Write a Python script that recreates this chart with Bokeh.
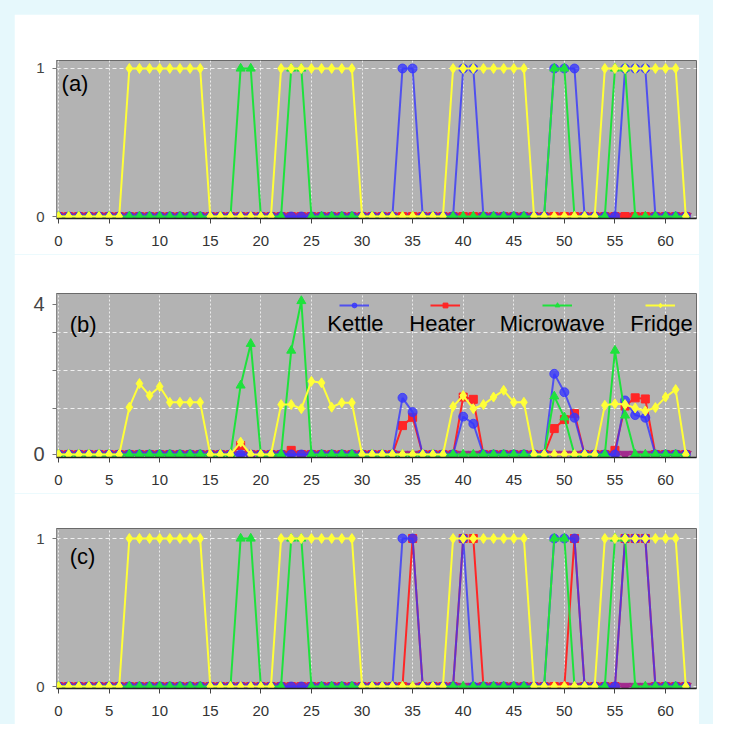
from bokeh.plotting import figure
from bokeh.layouts import column
from bokeh.models import FixedTicker, Label, Legend, LegendItem, Range1d
from bokeh.embed import file_html
from bokeh.resources import INLINE

# ---------------- data ----------------
t = list(range(63))
x_ticks = [0, 5, 10, 15, 20, 25, 30, 35, 40, 45, 50, 55, 60]
series_names = ["Kettle", "Heater", "Microwave", "Fridge"]

# (a) ground-truth on/off states
kettle_a = [0,0,0,0,0,0,0,0,0,0, 0,0,0,0,0,0,0,0,0,0, 0,0,0,0,0,0,0,0,0,0,
            0,0,0,0,1,1,0,0,0,0, 1,1,0,0,0,0,0,0,0,1, 1,1,0,0,0,0,1,1,1,0, 0,0,0]
heater_a = [0,0,0,0,0,0,0,0,0,0, 0,0,0,0,0,0,0,0,0,0, 0,0,0,0,0,0,0,0,0,0,
            0,0,0,0,0,0,0,0,0,0, 0,0,0,0,0,0,0,0,0,0, 0,0,0,0,0,0,0,0,0,0, 0,0,0]
microwave_a = [0,0,0,0,0,0,0,0,0,0, 0,0,0,0,0,0,0,0,1,1, 0,0,0,1,1,0,0,0,0,0,
               0,0,0,0,0,0,0,0,0,0, 0,0,0,0,0,0,0,0,0,1, 1,0,0,0,0,1,1,0,0,0, 0,0,0]
fridge_a = [0,0,0,0,0,0,0,1,1,1, 1,1,1,1,1,0,0,0,0,0, 0,0,1,1,1,1,1,1,1,1,
            0,0,0,0,0,0,0,0,0,1, 1,1,1,1,1,1,1,0,0,0, 0,0,0,0,1,1,1,1,1,1, 1,1,0]

# (b) power readings
kettle_b = [0,0,0,0,0,0,0,0,0,0, 0,0,0,0,0,0,0,0,0,0, 0,0,0,0,0,0,0,0,0,0,
            0,0,0,0,1.51,1.13,0,0,0,0, 1.01,0.82,0,0,0,0,0,0,0,2.15,
            1.66,0.98,0,0,0,0,1.44,1.05,0.98,0, 0,0,0]
heater_b = [0,0,0,0,0,0,0,0,0,0, 0,0,0,0,0,0,0,0,0.24,0, 0,0,0,0.11,0,0,0,0,0,0,
            0,0,0,0,0.77,0.99,0,0,0,0, 1.53,1.47,0,0,0,0,0,0,0,0.69,
            0.93,1.09,0,0,0,0.11,1.29,1.51,1.48,0, 0,0,0]
microwave_b = [0,0,0,0,0,0,0,0,0,0, 0,0,0,0,0,0,0,0,1.84,2.95, 0,0,0,2.77,4.09,0,0,0,0,0,
               0,0,0,0,0,0,0,0,0,0, 0,0,0,0,0,0,0,0,0,1.55,
               0.99,0,0,0,0,2.77,1.04,0,0,0, 0,0,0]
fridge_b = [0,0,0,0,0,0,0,1.26,1.89,1.57, 1.81,1.39,1.39,1.39,1.39,0,0,0,0.33,0,
            0,0,1.33,1.33,1.22,1.95,1.91,1.26,1.38,1.38, 0,0,0,0,0,0,0,0,0,1.28,
            1.57,1.22,1.33,1.53,1.71,1.39,1.39,0,0,0, 0,0,0,0,1.31,1.35,1.33,1.24,1.16,1.25,
            1.53,1.73,0]

# (c) estimated on/off states
kettle_c = [0,0,0,0,0,0,0,0,0,0, 0,0,0,0,0,0,0,0,0,0, 0,0,0,0,0,0,0,0,0,0,
            0,0,0,0,1,1,0,0,0,0, 1,0,0,0,0,0,0,0,0,1, 1,1,0,0,0,0,1,1,1,0, 0,0,0]
heater_c = [0,0,0,0,0,0,0,0,0,0, 0,0,0,0,0,0,0,0,0,0, 0,0,0,0,0,0,0,0,0,0,
            0,0,0,0,0,1,0,0,0,0, 1,1,0,0,0,0,0,0,0,0, 0,1,0,0,0,0,1,1,1,0, 0,0,0]
microwave_c = [0,0,0,0,0,0,0,0,0,0, 0,0,0,0,0,0,0,0,1,1, 0,0,0,1,1,0,0,0,0,0,
               0,0,0,0,0,0,0,0,0,0, 0,0,0,0,0,0,0,0,0,1, 1,0,0,0,0,1,1,0,0,0, 0,0,0]
fridge_c = [0,0,0,0,0,0,0,1,1,1, 1,1,1,1,1,0,0,0,0,0, 0,0,1,1,1,1,1,1,1,1,
            0,0,0,0,0,0,0,0,0,1, 1,1,1,1,1,1,1,0,0,0, 0,0,0,0,1,1,1,1,1,1, 1,1,0]

# unlabelled idle series (always zero)
idle = [0,0,0,0,0,0,0,0,0,0, 0,0,0,0,0,0,0,0,0,0, 0,0,0,0,0,0,0,0,0,0,
        0,0,0,0,0,0,0,0,0,0, 0,0,0,0,0,0,0,0,0,0, 0,0,0,0,0,0,0,0,0,0, 0,0,0]

# ---------------- styles ----------------
FONT = "Liberation Sans"
COL = {"Kettle": "#3434ff", "Heater": "#ff2626", "Microwave": "#1ee23c", "Fridge": "#ffff38"}
MARK = {"Kettle": "circle", "Heater": "square", "Microwave": "triangle", "Fridge": "diamond"}
MSIZE = {"Kettle": 9, "Heater": 8, "Microwave": 9, "Fridge": 10}
ALPHA = {"Kettle": 0.78, "Heater": 1.0, "Microwave": 1.0, "Fridge": 1.0}
IDLE_COL = "#a22a8e"
W = 685


def panel(tag, data, y0, y1, height, bt, bb, yticks, yminor, lab_xy, ysize, margin):
    p = figure(width=W, height=height, x_range=Range1d(-0.2, 63.06), y_range=Range1d(y0, y1),
               output_backend="svg", toolbar_location=None,
               min_border_left=42, min_border_right=3, min_border_top=bt, min_border_bottom=bb)
    p.margin = margin
    p.background_fill_color = "#b3b3b3"
    p.border_fill_color = "white"
    p.outline_line_color = "#6a6a6a"
    p.outline_line_width = 1

    p.xaxis.ticker = FixedTicker(ticks=x_ticks)
    p.xaxis.major_label_text_font = FONT
    p.xaxis.major_label_text_font_size = "15px"
    p.xaxis.major_label_text_color = "#333333"
    p.xaxis.axis_line_color = "#222222"
    p.xaxis.axis_line_width = 1.5
    p.xaxis.major_tick_out = 5
    p.xaxis.major_tick_in = 0
    p.xaxis.major_tick_line_color = "#444444"
    p.xaxis.major_label_standoff = 12

    p.yaxis.ticker = FixedTicker(ticks=yticks, minor_ticks=yminor)
    p.yaxis.major_label_text_font = FONT
    p.yaxis.major_label_text_font_size = ysize
    p.yaxis.major_label_text_color = "#444444"
    p.yaxis.axis_line_color = "#888888"
    p.yaxis.major_tick_out = 4
    p.yaxis.major_tick_in = 0
    p.yaxis.minor_tick_out = 4
    p.yaxis.minor_tick_in = 0
    p.yaxis.major_tick_line_color = "#777777"
    p.yaxis.minor_tick_line_color = "#777777"
    p.yaxis.major_label_standoff = 8

    p.xgrid.grid_line_color = "white"
    p.xgrid.grid_line_alpha = 0.75
    p.xgrid.grid_line_dash = "2 2"
    if yminor:
        p.ygrid.grid_line_color = None
        p.ygrid.minor_grid_line_color = "white"
        p.ygrid.minor_grid_line_alpha = 0.8
        p.ygrid.minor_grid_line_dash = "4 3"
    else:
        p.ygrid.grid_line_color = "white"
        p.ygrid.grid_line_alpha = 0.8
        p.ygrid.grid_line_dash = "4 3"

    # idle series underneath everything
    p.line(t, idle, line_color=IDLE_COL, line_width=2)
    p.scatter(t, idle, marker="inverted_triangle", size=11, color=IDLE_COL)

    rends = {}
    for name in ["Heater", "Kettle", "Microwave", "Fridge"]:
        ys = data[name]
        lr = p.line(t, ys, line_color=COL[name], line_width=2, line_alpha=ALPHA[name])
        sr = p.scatter(t, ys, marker=MARK[name], size=MSIZE[name], fill_color=COL[name],
                       line_color=COL[name], fill_alpha=ALPHA[name], line_alpha=ALPHA[name])
        rends[name] = (lr, sr)

    p.add_layout(Label(x=lab_xy[0], y=lab_xy[1], text=tag, text_font=FONT,
                       text_font_size="22px", text_color="black", text_baseline="middle"))
    return p, rends


pa, _ = panel("(a)", {"Kettle": kettle_a, "Heater": heater_a, "Microwave": microwave_a, "Fridge": fridge_a},
              -0.0135, 1.054, 240, 46, 36, [0, 1], [], (0.3, 0.9), "15px", (14, 14, 0, 14))
pb, rb = panel("(b)", {"Kettle": kettle_b, "Heater": heater_b, "Microwave": microwave_b, "Fridge": fridge_b},
               -0.08, 4.29, 239, 39, 36, [0, 4], [1.23, 2.24, 3.25], (1.1, 3.47), "20px", (0, 14, 0, 14))
pc, _ = panel("(c)", {"Kettle": kettle_c, "Heater": heater_c, "Microwave": microwave_c, "Fridge": fridge_c},
              -0.0135, 1.0676, 231, 35, 36, [0, 1], [], (1.1, 0.88), "15px", (0, 14, 0, 14))

# legend of panel (b): glyph sample above each name
legend_text_x = [29.35, 37.94, 48.8, 59.6]
legend_glyph_px = [283, 374, 486, 589]
for name, lx, gx in zip(series_names, legend_text_x, legend_glyph_px):
    lg = Legend(items=[LegendItem(label=" ", renderers=list(rb[name]))], location=(gx, 146),
                glyph_width=30, glyph_height=12, label_height=12, label_width=1, label_standoff=0,
                padding=0, margin=0, spacing=0, border_line_alpha=0, background_fill_alpha=0,
                label_text_font_size="6px")
    pb.add_layout(lg)
    pb.add_layout(Label(x=lx, y=3.49, text=name, text_font=FONT, text_font_size="22px",
                        text_color="black", text_align="center", text_baseline="middle"))

layout = column(pa, pb, pc, spacing=0, styles={"background-color": "#e6f8fc"})

open("out.html", "w").write(file_html(layout, INLINE))
